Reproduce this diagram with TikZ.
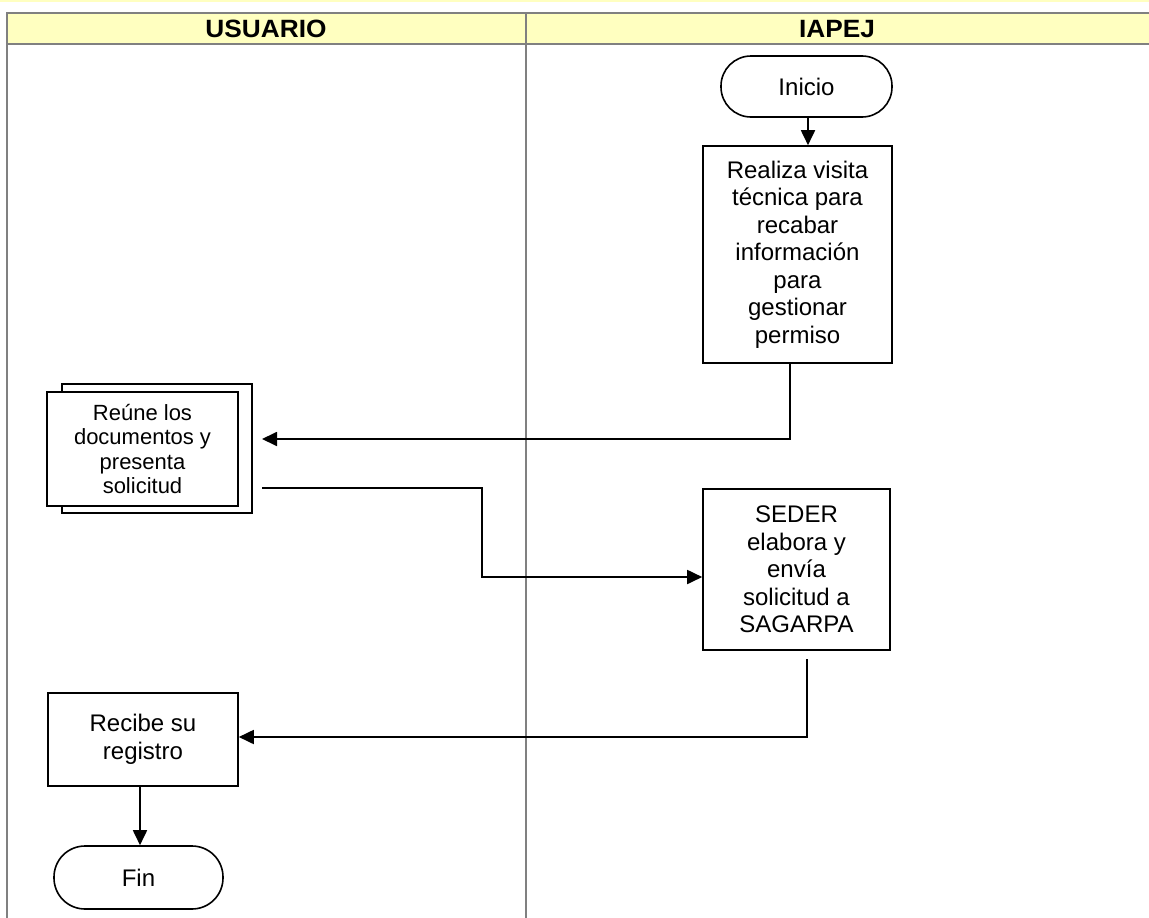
\documentclass[tikz,border=0pt]{standalone}
\usepackage{fontspec}
\setmainfont{Liberation Sans}
\usetikzlibrary{arrows.meta,calc}
\definecolor{hdr}{HTML}{FFFFC0}
\definecolor{lane}{HTML}{808080}
\tikzset{
  lanes/.style={draw=lane,line width=2pt},
  procbox/.style={draw=black,line width=1.6pt,fill=white,align=center,
    font=\fontsize{24}{27.5}\selectfont,inner sep=0pt},
  termbox/.style={draw=black,line width=1.6pt,fill=white,align=center,
    font=\fontsize{24}{27.5}\selectfont,inner sep=0pt},
  conn/.style={draw=black,line width=1.8pt},
  arr/.style={conn,-{Triangle[length=15pt,width=14pt]}},
  hdrtext/.style={font=\fontsize{25}{26}\selectfont\bfseries,xscale=1.05,transform shape}
}
\begin{document}
\begin{tikzpicture}[x=1pt,y=-1pt]
\useasboundingbox (0,0) rectangle (1149,918);
\fill[hdr] (0,0) rectangle (1149,1.5);
% header and lanes
\fill[hdr] (7,13) rectangle (1149,44);
\draw[lanes] (1150,13) -- (7,13) -- (7,918);
\draw[lanes] (7,44) -- (1150,44);
\draw[lanes] (526,13) -- (526,918);
\node[hdrtext] (husr) at (266,29) {USUARIO};
\node[hdrtext] (hiap) at (837,29) {IAPEJ};
% nodes
\node[termbox,minimum width=171pt,minimum height=61pt,rounded corners=30pt] (ini) at (806.5,86.5) {Inicio};
\node[procbox,minimum width=189pt,minimum height=217pt] (real) at (797.5,254.5)
  {Realiza visita\\técnica para\\recabar\\información\\para\\gestionar\\permiso};
% document shape
\draw[draw=black,line width=1.6pt,fill=white] (62,384) rectangle (252,513);
\node[procbox,minimum width=191pt,minimum height=114pt,font=\fontsize{22}{24.5}\selectfont] (reu) at (142.5,449)
  {Reúne los\\documentos y\\presenta\\solicitud};
\node[procbox,minimum width=187pt,minimum height=161pt] (sed) at (796.5,569.5)
  {SEDER\\elabora y\\envía\\solicitud a\\SAGARPA};
\node[procbox,minimum width=190pt,minimum height=93pt] (rec) at (143,739.5)
  {Recibe su\\registro};
\node[termbox,minimum width=169pt,minimum height=63pt,rounded corners=31pt] (fin) at (138.5,877.5) {Fin};
% free ends
\coordinate (a1) at (790,439);
\coordinate (a2) at (262,439);
\coordinate (b0) at (262,488);
\coordinate (b1) at (482,488);
\coordinate (b2) at (482,577);
\coordinate (c0) at (807,659);
\coordinate (c1) at (807,737);
% connectors
\draw[arr] (ini.south -| 808,0) -- (real.north -| 808,0);
\draw[arr] (real.south -| a1) -- (a1) -- (a2);
\draw[arr] (b0) -- (b1) -- (b2) -- (b2 -| sed.west);
\draw[arr] (c0) -- (c1) -- (c1 -| rec.east);
\draw[arr] (rec.south -| 140,0) -- (fin.north -| 140,0);
\end{tikzpicture}
\end{document}
